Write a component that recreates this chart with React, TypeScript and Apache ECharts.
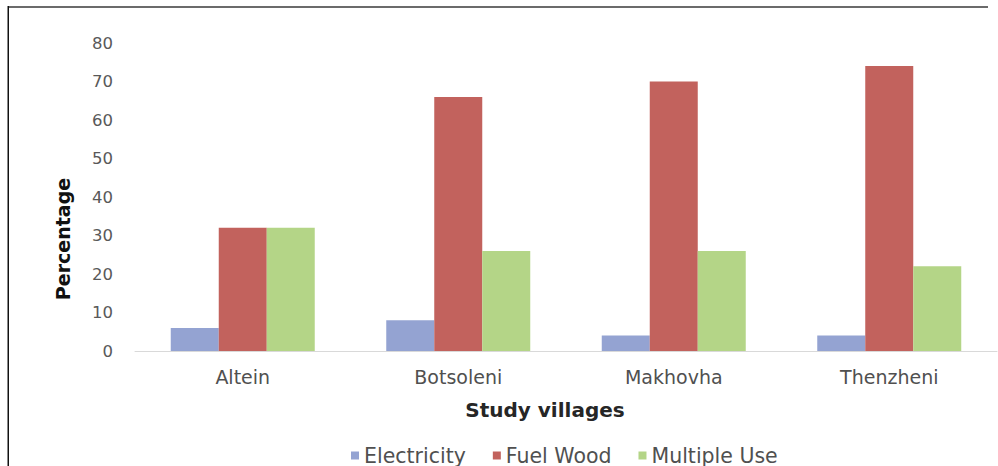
import React, { useEffect, useRef } from "react";
import * as echarts from "echarts";

const villages = ["Altein", "Botsoleni", "Makhovha", "Thenzheni"];
const electricity = [6, 8, 4, 4];
const fuelWood = [32, 66, 70, 74];
const multipleUse = [32, 26, 26, 22];
const seriesNames = ["Electricity", "Fuel Wood", "Multiple Use"];
const colors = ["#94a3d2", "#c2625d", "#b4d587"];

const FONT = "DejaVu Sans";

export default function App() {
  const ref = useRef<HTMLDivElement>(null);
  useEffect(() => {
    if (!ref.current) return;
    const chart = echarts.init(ref.current, null, { renderer: "svg" });
    const dataSets = [electricity, fuelWood, multipleUse];
    chart.setOption({
      animation: false,
      backgroundColor: "#ffffff",
      grid: { left: 135, right: 1, top: 43, bottom: 115, containLabel: false },
      xAxis: {
        type: "category",
        data: villages,
        axisLine: { show: true, lineStyle: { color: "#d9d9d9", width: 1 } },
        axisTick: { show: false },
        axisLabel: { color: "#505050", fontSize: 19, fontFamily: FONT, margin: 16 },
      },
      yAxis: {
        type: "value",
        min: 0,
        max: 80,
        interval: 10,
        axisLine: { show: false },
        axisTick: { show: false },
        splitLine: { show: false },
        axisLabel: { color: "#595959", fontSize: 16.5, fontFamily: FONT, margin: 22 },
      },
      legend: {
        left: 346,
        top: 440,
        icon: "rect",
        itemWidth: 8,
        itemHeight: 8,
        itemGap: 27,
        textStyle: { color: "#505050", fontSize: 20.5, fontFamily: FONT },
        data: seriesNames,
      },
      series: seriesNames.map((name, i) => ({
        name,
        type: "bar",
        data: dataSets[i],
        barWidth: 48,
        barGap: "0%",
        itemStyle: { color: colors[i] },
      })),
      graphic: [
        {
          type: "rect",
          shape: { x: 8, y: 6, width: 980, height: 2 },
          style: { fill: "#6b6b6b" },
          z: 100,
        },
        {
          type: "rect",
          shape: { x: 7.5, y: 6, width: 1.5, height: 460 },
          style: { fill: "#111111" },
          z: 100,
        },
        {
          type: "text",
          x: 545,
          y: 410,
          style: {
            text: "Study villages",
            fill: "#262626",
            font: `bold 20px "${FONT}"`,
            textAlign: "center",
            textVerticalAlign: "middle",
          },
        },
        {
          type: "text",
          x: 63,
          y: 239,
          rotation: Math.PI / 2,
          style: {
            text: "Percentage",
            fill: "#111111",
            font: `bold 19px "${FONT}"`,
            textAlign: "center",
            textVerticalAlign: "middle",
          },
        },
      ],
    });
    return () => chart.dispose();
  }, []);
  return (
    <div
      ref={ref}
      style={{ position: "fixed", left: 0, top: 0, width: 998, height: 466 }}
    />
  );
}
